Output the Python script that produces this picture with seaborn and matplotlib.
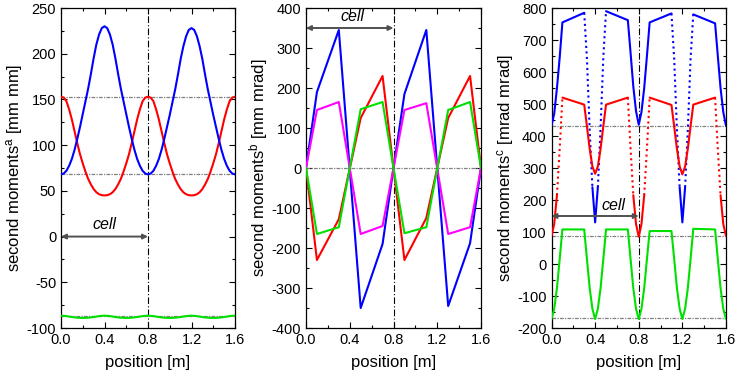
import numpy as np
import pandas as pd
import matplotlib
matplotlib.use('Agg')
import matplotlib.pyplot as plt
import seaborn as sns
from matplotlib.ticker import MultipleLocator

sns.set_style('ticks')
plt.rcParams['font.family'] = ['Liberation Sans', 'DejaVu Sans']
plt.rcParams['mathtext.fontset'] = 'custom'
plt.rcParams['mathtext.rm'] = 'Liberation Sans'
plt.rcParams['mathtext.it'] = 'Liberation Sans:italic'
plt.rcParams['axes.unicode_minus'] = False
plt.rcParams['axes.labelcolor'] = 'black'
plt.rcParams['text.color'] = 'black'

# ---- panel a: position-position moments [mm mm]
pos1 = [0.0, 0.025, 0.05, 0.075, 0.1, 0.125, 0.15, 0.175, 0.2, 0.225, 0.25, 0.275, 0.3, 0.325, 0.35, 0.375,
        0.4, 0.425, 0.45, 0.475, 0.5, 0.525, 0.55, 0.575, 0.6, 0.625, 0.65, 0.675, 0.7, 0.725, 0.75, 0.775,
        0.8, 0.825, 0.85, 0.875, 0.9, 0.925, 0.95, 0.975, 1.0, 1.025, 1.05, 1.075, 1.1, 1.125, 1.15, 1.175,
        1.2, 1.225, 1.25, 1.275, 1.3, 1.325, 1.35, 1.375, 1.4, 1.425, 1.45, 1.475, 1.5, 1.525, 1.55, 1.575,
        1.6]
blue1 = [68, 69, 72, 77.5, 85, 95, 107, 120, 134, 148, 162, 178, 195, 210, 221, 228,
         230, 228, 221, 210, 195, 178, 162, 148, 134, 120, 107, 95, 85, 77.5, 72, 69,
         68, 69, 72, 77.5, 85, 95, 107, 120, 133, 147, 161, 177, 194, 208, 219, 226,
         228, 226, 219, 208, 194, 177, 161, 147, 133, 120, 107, 95, 85, 77.5, 72, 69,
         68]
red1 = [153, 152, 148, 139, 128, 115, 102, 90, 80, 71, 63, 57, 52, 48.5, 46.3, 45.3,
        45, 45.3, 46.3, 48.5, 52, 57, 63, 71, 80, 90, 102, 115, 128, 139, 148, 152,
        153, 152, 148, 139, 128, 115, 102, 90, 80, 71, 63, 57, 52, 48.5, 46.3, 45.3,
        45, 45.3, 46.3, 48.5, 52, 57, 63, 71, 80, 90, 102, 115, 128, 139, 148, 152,
        153]
green1 = [-86.5, -86.7, -87, -87.5, -88, -88.4, -88.7, -88.9, -89, -88.9, -88.7, -88.4, -88, -87.5, -87, -86.7,
          -86.5, -86.7, -87, -87.5, -88, -88.4, -88.7, -88.9, -89, -88.9, -88.7, -88.4, -88, -87.5, -87, -86.7,
          -86.5, -86.7, -87, -87.5, -88, -88.4, -88.7, -88.9, -89, -88.9, -88.7, -88.4, -88, -87.5, -87, -86.7,
          -86.5, -86.7, -87, -87.5, -88, -88.4, -88.7, -88.9, -89, -88.9, -88.7, -88.4, -88, -87.5, -87, -86.7,
          -86.5]
ref1 = [153, 68, -87]

# ---- panel b: position-angle moments [mm mrad]
pos2 = [0.0, 0.1, 0.3, 0.5, 0.7, 0.8, 0.9, 1.1, 1.3, 1.5, 1.6]
blue2 = [0, 190, 345, -350, -190, 0, 185, 345, -345, -188, 0]
red2 = [0, -230, -128, 125, 230, 0, -230, -125, 125, 230, 0]
magenta2 = [0, 145, 165, -165, -145, 0, 145, 162, -165, -148, 0]
green2 = [0, -165, -148, 147, 165, 0, -163, -148, 145, 165, 0]
ref2 = [0]

# ---- panel c: angle-angle moments [mrad mrad]
pos3 = [0.0, 0.025, 0.05, 0.075, 0.1,
        0.3, 0.325, 0.35, 0.375, 0.4, 0.425, 0.45, 0.475, 0.5,
        0.7, 0.725, 0.75, 0.775, 0.8, 0.825, 0.85, 0.875, 0.9,
        1.1, 1.125, 1.15, 1.175, 1.2, 1.225, 1.25, 1.275, 1.3,
        1.5, 1.525, 1.55, 1.575, 1.6]
blue3 = [432, 470, 550, 645, 755,
         785, 640, 420, 240, 130, 240, 425, 645, 790,
         762, 660, 555, 478, 435, 475, 550, 650, 755,
         783, 640, 420, 240, 130, 240, 420, 640, 780,
         752, 650, 550, 475, 432]
red3 = [88, 125, 215, 360, 520,
        498, 430, 360, 305, 282, 305, 360, 430, 498,
        520, 360, 215, 125, 85, 125, 215, 360, 520,
        497, 430, 360, 305, 280, 305, 360, 430, 498,
        520, 360, 215, 125, 88]
green3 = [-172, -140, -75, 15, 108,
          108, 15, -75, -140, -172, -140, -75, 15, 108,
          108, 15, -75, -140, -172, -140, -75, 15, 103,
          103, 15, -75, -140, -172, -140, -75, 15, 110,
          108, 15, -75, -140, -172]
ref3 = [432, 88, -170]

BLUE, RED, GREEN, MAGENTA = '#0000ff', '#ff0000', '#00e000', '#ff00ff'
LW = 1.5


def style_axes(ax, ylim, ymaj, ymin, ylabel):
    ax.set_xlim(0, 1.6)
    ax.set_ylim(*ylim)
    ax.xaxis.set_major_locator(MultipleLocator(0.4))
    ax.xaxis.set_minor_locator(MultipleLocator(0.2))
    ax.yaxis.set_major_locator(MultipleLocator(ymaj))
    ax.yaxis.set_minor_locator(MultipleLocator(ymin))
    ax.xaxis.set_major_formatter('{x:.1f}')
    ax.yaxis.set_major_formatter('{x:.0f}')
    ax.tick_params(which='both', direction='in', top=True, right=True,
                   labelsize=10.5, width=0.8, colors='black')
    ax.tick_params(which='major', length=4)
    ax.tick_params(which='minor', length=2)
    for s in ax.spines.values():
        s.set_linewidth(0.9)
        s.set_color('black')
    ax.set_xlabel('position [m]', fontsize=12, labelpad=6)
    ax.set_ylabel(ylabel, fontsize=12, labelpad=1)


def ref_lines(ax, levels):
    for v in levels:
        ax.axhline(v, color='#808080', lw=0.9, ls=(0, (3, 1, 1, 1)), zorder=1)
    ax.axvline(0.8, color='black', lw=0.8, ls=(0, (6, 2, 1, 2)), zorder=1)


def cell_arrow(ax, y, xt, dy):
    ax.annotate('', xy=(0, y), xytext=(0.8, y),
                arrowprops=dict(arrowstyle='<|-|>', color='#505050', lw=1.4,
                                mutation_scale=7, shrinkA=0, shrinkB=0))
    ax.text(xt, y + dy, 'cell', style='italic', ha='center', va='bottom', fontsize=11.5)


def steep_line(ax, x, y, color, limit=4800):
    # steep pieces show up as dots in the original plot
    x = np.asarray(x)
    y = np.asarray(y, dtype=float)
    steep = np.abs(np.diff(y) / np.diff(x)) > limit
    start = 0
    for i in range(1, len(steep) + 1):
        if i == len(steep) or steep[i] != steep[start]:
            ls = ':' if steep[start] else '-'
            sns.lineplot(x=x[start:i + 1], y=y[start:i + 1], color=color, lw=LW,
                         linestyle=ls, ax=ax, zorder=3)
            start = i


fig = plt.figure(figsize=(7.36, 3.78), dpi=100)
ax1 = fig.add_axes([61 / 736, 50 / 378, 174 / 736, 320 / 378])
ax2 = fig.add_axes([306 / 736, 50 / 378, 175 / 736, 320 / 378])
ax3 = fig.add_axes([551.5 / 736, 50 / 378, 174.5 / 736, 320 / 378])

# panel a
ref_lines(ax1, ref1)
sns.lineplot(x=pos1, y=green1, color=GREEN, lw=LW, ax=ax1, zorder=3)
sns.lineplot(x=pos1, y=red1, color=RED, lw=LW, ax=ax1, zorder=3)
sns.lineplot(x=pos1, y=blue1, color=BLUE, lw=LW, ax=ax1, zorder=3)
cell_arrow(ax1, 0, 0.40, 5)
style_axes(ax1, (-100, 250), 50, 25, 'second moments$^\\mathrm{a}$ [mm mm]')

# panel b
ref_lines(ax2, ref2)
sns.lineplot(x=pos2, y=blue2, color=BLUE, lw=LW, ax=ax2, zorder=3)
sns.lineplot(x=pos2, y=red2, color=RED, lw=LW, ax=ax2, zorder=3)
sns.lineplot(x=pos2, y=magenta2, color=MAGENTA, lw=LW, ax=ax2, zorder=3)
sns.lineplot(x=pos2, y=green2, color=GREEN, lw=LW, ax=ax2, zorder=3)
cell_arrow(ax2, 350, 0.42, 10)
style_axes(ax2, (-400, 400), 100, 50, 'second moments$^\\mathrm{b}$ [mm mrad]')

# panel c
ref_lines(ax3, ref3)
steep_line(ax3, pos3, blue3, BLUE)
steep_line(ax3, pos3, red3, RED)
steep_line(ax3, pos3, green3, GREEN)
cell_arrow(ax3, 150, 0.57, 10)
style_axes(ax3, (-200, 800), 100, 50, 'second moments$^\\mathrm{c}$ [mrad mrad]')

fig.savefig('out.png', dpi=100)
